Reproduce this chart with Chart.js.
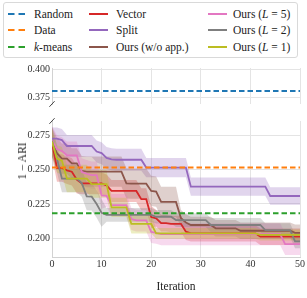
<!DOCTYPE html>
<html>
<head>
<meta charset="utf-8">
<script src="https://cdn.jsdelivr.net/npm/chart.js@4.4.1/dist/chart.umd.min.js"></script>
<style>
body { margin: 0; background: #fff; }
#wrap { position: relative; width: 307px; height: 298px; font-family: "Liberation Serif", "DejaVu Serif", serif; color: #222; }
canvas { position: absolute; left: 0; }
#topChart { top: 60px; }
#bottomChart { top: 112px; }
#legend { position: absolute; left: 3px; top: 2px; width: 295px; height: 56px; border: 1px solid #d9d9d9; border-radius: 3px; box-sizing: border-box; }
.lab { position: absolute; font-size: 11.5px; line-height: 14px; white-space: nowrap; }
.hnd { position: absolute; }
#ylabel { position: absolute; left: 22px; top: 161px; font-size: 11.5px; white-space: nowrap; transform: translate(-50%, -50%) rotate(-90deg); }
</style>
</head>
<body>
<div id="wrap">
  <div id="legend"></div>
  <canvas id="topChart" width="307" height="52"></canvas>
  <canvas id="bottomChart" width="307" height="186"></canvas>
  <div id="ylabel">1 − ARI</div>
</div>
<script>
const FONT = "'Liberation Serif', 'DejaVu Serif', serif";

// baselines
const randomVal = 0.381;
const dataVal = 0.2515;
const kmeansVal = 0.2182;

// mean curves, iterations 0..50
const vectorMean = [0.2695, 0.2512, 0.2512, 0.2495, 0.2485, 0.2427, 0.2400, 0.2400, 0.2400, 0.2400,
  0.2400, 0.2385, 0.2345, 0.2345, 0.2345, 0.2345, 0.2345, 0.2345, 0.2285, 0.2285,
  0.2155, 0.2146, 0.2110, 0.2110, 0.2105, 0.2105, 0.2105, 0.2048, 0.2036, 0.2036,
  0.2036, 0.2036, 0.2036, 0.2036, 0.2036, 0.2036, 0.2036, 0.2036, 0.2036, 0.2036,
  0.2036, 0.2036, 0.2012, 0.2012, 0.2012, 0.2012, 0.2012, 0.2012, 0.2012, 0.2012,
  0.2012];
const splitMean = [0.2726, 0.2726, 0.2715, 0.2672, 0.2672, 0.2672, 0.2672, 0.2672, 0.2672, 0.2632,
  0.2620, 0.2585, 0.2575, 0.2572, 0.2572, 0.2572, 0.2572, 0.2572, 0.2572, 0.2515,
  0.2515, 0.2515, 0.2515, 0.2515, 0.2515, 0.2515, 0.2515, 0.2515, 0.2376, 0.2376,
  0.2376, 0.2376, 0.2376, 0.2376, 0.2376, 0.2376, 0.2376, 0.2376, 0.2376, 0.2376,
  0.2376, 0.2376, 0.2376, 0.2376, 0.2308, 0.2308, 0.2308, 0.2308, 0.2308, 0.2308,
  0.2308];
const woAppMean = [0.2700, 0.2620, 0.2580, 0.2580, 0.2545, 0.2545, 0.2490, 0.2485, 0.2485, 0.2485,
  0.2485, 0.2485, 0.2485, 0.2485, 0.2485, 0.2400, 0.2398, 0.2398, 0.2398, 0.2398,
  0.2345, 0.2340, 0.2265, 0.2265, 0.2265, 0.2265, 0.2146, 0.2115, 0.2097, 0.2097,
  0.2097, 0.2097, 0.2097, 0.2073, 0.2073, 0.2073, 0.2073, 0.2073, 0.2055, 0.2055,
  0.2055, 0.2055, 0.2055, 0.2055, 0.2055, 0.2055, 0.2055, 0.2055, 0.2055, 0.2040,
  0.2040];
const l5Mean = [0.2715, 0.2650, 0.2635, 0.2605, 0.2604, 0.2604, 0.2483, 0.2470, 0.2460, 0.2460,
  0.2313, 0.2310, 0.2242, 0.2242, 0.2242, 0.2242, 0.2140, 0.2130, 0.2130, 0.2130,
  0.2046, 0.2040, 0.2030, 0.2030, 0.2030, 0.2030, 0.2030, 0.2030, 0.2030, 0.2030,
  0.2030, 0.2030, 0.2030, 0.2030, 0.2030, 0.2030, 0.2030, 0.2030, 0.2030, 0.2030,
  0.2030, 0.2030, 0.2030, 0.2030, 0.2030, 0.2030, 0.2030, 0.1958, 0.1958, 0.1958,
  0.1958];
const l2Mean = [0.2710, 0.2580, 0.2435, 0.2435, 0.2435, 0.2435, 0.2403, 0.2305, 0.2303, 0.2250,
  0.2185, 0.2170, 0.2170, 0.2170, 0.2170, 0.2170, 0.2170, 0.2170, 0.2170, 0.2170,
  0.2170, 0.2157, 0.2157, 0.2157, 0.2157, 0.2133, 0.2133, 0.2133, 0.2133, 0.2133,
  0.2133, 0.2133, 0.2097, 0.2097, 0.2097, 0.2097, 0.2097, 0.2097, 0.2097, 0.2097,
  0.2097, 0.2097, 0.2097, 0.2060, 0.2060, 0.2060, 0.2060, 0.2060, 0.2060, 0.1978,
  0.1978];
const l1Mean = [0.2705, 0.2580, 0.2565, 0.2435, 0.2435, 0.2435, 0.2435, 0.2435, 0.2395, 0.2395,
  0.2395, 0.2395, 0.2225, 0.2225, 0.2225, 0.2225, 0.2105, 0.2105, 0.2105, 0.2105,
  0.2105, 0.2036, 0.2036, 0.2036, 0.2036, 0.2036, 0.2036, 0.2036, 0.2036, 0.2036,
  0.2036, 0.2036, 0.2036, 0.2036, 0.2036, 0.2036, 0.2036, 0.2036, 0.2036, 0.2036,
  0.2036, 0.2036, 0.2025, 0.2025, 0.2025, 0.2025, 0.2025, 0.2025, 0.2025, 0.2025,
  0.2025];

// std band half widths
const vectorSd = [0.010, 0.010, 0.010, 0.010, 0.010, 0.010, 0.008, 0.008, 0.008, 0.008,
  0.008, 0.008, 0.008, 0.008, 0.008, 0.008, 0.008, 0.008, 0.008, 0.008,
  0.008, 0.006, 0.006, 0.006, 0.006, 0.006, 0.006, 0.006, 0.006, 0.006,
  0.006, 0.006, 0.006, 0.006, 0.006, 0.006, 0.006, 0.006, 0.006, 0.006,
  0.006, 0.006, 0.006, 0.006, 0.006, 0.006, 0.006, 0.006, 0.006, 0.006,
  0.006];
const splitSd = [0.008, 0.008, 0.008, 0.008, 0.008, 0.008, 0.008, 0.008, 0.008, 0.008,
  0.008, 0.008, 0.008, 0.008, 0.008, 0.008, 0.008, 0.008, 0.008, 0.007,
  0.007, 0.007, 0.007, 0.007, 0.007, 0.007, 0.007, 0.007, 0.0066, 0.0066,
  0.0066, 0.0066, 0.0066, 0.0066, 0.0066, 0.0066, 0.0066, 0.0066, 0.0066, 0.0066,
  0.0066, 0.0066, 0.0066, 0.0066, 0.0063, 0.0063, 0.0063, 0.0063, 0.0063, 0.0063,
  0.0063];
const woAppSd = [0.011, 0.011, 0.011, 0.011, 0.011, 0.011, 0.011, 0.011, 0.011, 0.011,
  0.011, 0.011, 0.011, 0.011, 0.011, 0.011, 0.011, 0.011, 0.011, 0.011,
  0.011, 0.011, 0.011, 0.011, 0.011, 0.011, 0.006, 0.006, 0.006, 0.006,
  0.006, 0.006, 0.006, 0.006, 0.006, 0.006, 0.006, 0.006, 0.006, 0.006,
  0.006, 0.006, 0.006, 0.006, 0.006, 0.006, 0.006, 0.006, 0.006, 0.006,
  0.006];
const l5Sd = [0.010, 0.010, 0.010, 0.010, 0.010, 0.010, 0.010, 0.010, 0.010, 0.010,
  0.010, 0.008, 0.008, 0.008, 0.008, 0.008, 0.008, 0.008, 0.008, 0.008,
  0.008, 0.008, 0.008, 0.008, 0.008, 0.008, 0.008, 0.008, 0.008, 0.008,
  0.008, 0.008, 0.008, 0.008, 0.008, 0.008, 0.008, 0.008, 0.008, 0.008,
  0.008, 0.008, 0.008, 0.008, 0.008, 0.008, 0.008, 0.008, 0.008, 0.008,
  0.008];
const l2Sd = [0.010, 0.010, 0.010, 0.010, 0.010, 0.010, 0.010, 0.010, 0.010, 0.010,
  0.010, 0.005, 0.005, 0.005, 0.005, 0.005, 0.005, 0.005, 0.005, 0.005,
  0.005, 0.005, 0.005, 0.005, 0.005, 0.005, 0.005, 0.005, 0.005, 0.005,
  0.005, 0.005, 0.005, 0.005, 0.005, 0.005, 0.005, 0.005, 0.005, 0.005,
  0.005, 0.005, 0.005, 0.005, 0.005, 0.005, 0.005, 0.005, 0.005, 0.005,
  0.005];
const l1Sd = [0.010, 0.010, 0.010, 0.010, 0.010, 0.010, 0.010, 0.010, 0.010, 0.010,
  0.010, 0.010, 0.007, 0.007, 0.007, 0.007, 0.007, 0.007, 0.007, 0.007,
  0.007, 0.004, 0.004, 0.004, 0.004, 0.004, 0.004, 0.004, 0.004, 0.004,
  0.004, 0.004, 0.004, 0.004, 0.004, 0.004, 0.004, 0.004, 0.004, 0.004,
  0.004, 0.004, 0.004, 0.004, 0.004, 0.004, 0.004, 0.004, 0.004, 0.004,
  0.004];

const topTicks = [0.375, 0.400];
const bottomTicks = [0.200, 0.225, 0.250, 0.275];
const xTicks = [0, 10, 20, 30, 40, 50];

const series = [
  {name: 'Vector', mean: vectorMean, sd: vectorSd, color: [214, 39, 40]},
  {name: 'Split', mean: splitMean, sd: splitSd, color: [148, 103, 189]},
  {name: 'Ours (w/o app.)', mean: woAppMean, sd: woAppSd, color: [140, 86, 75]},
  {name: 'Ours (<i>L</i> = 5)', mean: l5Mean, sd: l5Sd, color: [227, 119, 194]},
  {name: 'Ours (<i>L</i> = 2)', mean: l2Mean, sd: l2Sd, color: [127, 127, 127]},
  {name: 'Ours (<i>L</i> = 1)', mean: l1Mean, sd: l1Sd, color: [188, 189, 34]}
];
const baselines = [
  {name: 'Random', color: [31, 119, 180]},
  {name: 'Data', color: [255, 127, 14]},
  {name: '<i>k</i>-means', color: [44, 160, 44]}
];

const rgb = (c, a) => a === undefined ? `rgb(${c.join(',')})` : `rgba(${c.join(',')},${a})`;
const gridColor = '#e4e4e4';
const spineColor = '#d2d2d2';
const tickColor = '#333';

// legend (3 columns)
const legend = document.getElementById('legend');
const handleX = [4, 85, 204];
const textX = [30, 112, 229];
const rowY = [11.3, 27.3, 43.7];
const legendItems = baselines.map(b => ({...b, dashed: true})).concat(series.map(s => ({name: s.name, color: s.color, dashed: false})));
legendItems.forEach((it, i) => {
  const col = Math.floor(i / 3), row = i % 3;
  const dash = it.dashed ? 'stroke-dasharray="6.5,4"' : '';
  legend.insertAdjacentHTML('beforeend',
    `<svg class="hnd" width="19" height="4" style="left:${handleX[col]}px;top:${rowY[row] - 2}px">` +
    `<line x1="0" y1="2" x2="19" y2="2" stroke="${rgb(it.color)}" stroke-width="2" ${dash}/></svg>` +
    `<span class="lab" style="left:${textX[col]}px;top:${rowY[row] - 7}px">${it.name}</span>`);
});

const iters = vectorMean.map((_, i) => i);
const pts = arr => arr.map((v, i) => ({x: iters[i], y: v}));
const flat = v => [{x: 0, y: v}, {x: 50, y: v}];

const breakMarks = edge => ({
  id: 'breakMarks',
  afterDraw(chart) {
    const {ctx, chartArea} = chart;
    const y = edge === 'bottom' ? chartArea.bottom : chartArea.top;
    const x = chartArea.left;
    ctx.save();
    ctx.strokeStyle = '#444';
    ctx.lineWidth = 1;
    ctx.beginPath();
    ctx.moveTo(x - 2.6, y + 2.8);
    ctx.lineTo(x + 2.6, y - 2.8);
    ctx.stroke();
    ctx.restore();
  }
});

const yAxis = (min, max, ticks) => ({
  min: min, max: max,
  afterBuildTicks: s => { s.ticks = ticks.map(v => ({value: v})); },
  afterFit: s => { s.width = 52; },
  ticks: {callback: v => v.toFixed(3), padding: 2, color: tickColor, font: {family: FONT, size: 10}},
  grid: {color: gridColor, drawTicks: false},
  border: {color: spineColor}
});

// top panel: random baseline
new Chart(document.getElementById('topChart'), {
  type: 'line',
  data: {
    datasets: [{
      data: flat(randomVal), borderColor: rgb(baselines[0].color), borderWidth: 2,
      borderDash: [5.5, 3], pointRadius: 0
    }]
  },
  options: {
    responsive: false, animation: false,
    layout: {padding: {top: 5, bottom: 4, left: 0, right: 7}},
    plugins: {legend: {display: false}, tooltip: {enabled: false}},
    scales: {
      x: {
        type: 'linear', min: 0, max: 50,
        afterBuildTicks: s => { s.ticks = xTicks.map(v => ({value: v})); },
        afterFit: s => { s.height = 0; },
        ticks: {display: false},
        grid: {color: gridColor, drawTicks: false},
        border: {display: false}
      },
      y: yAxis(0.3696, 0.4012, topTicks)
    }
  },
  plugins: [breakMarks('bottom')]
});

// bottom panel
const datasets = [];
series.forEach((s, k) => {
  datasets.push({
    data: pts(s.mean.map((m, i) => m + s.sd[i])), borderWidth: 0, pointRadius: 0,
    backgroundColor: rgb(s.color, 0.28), fill: '+1', order: 40 - k
  });
  datasets.push({
    data: pts(s.mean.map((m, i) => m - s.sd[i])), borderWidth: 0, pointRadius: 0,
    fill: false, order: 40 - k
  });
});
series.forEach((s, k) => {
  datasets.push({
    data: pts(s.mean), borderColor: rgb(s.color), borderWidth: 1.8, pointRadius: 0,
    fill: false, order: 20 - k
  });
});
[[dataVal, baselines[1].color], [kmeansVal, baselines[2].color]].forEach(([v, c]) => {
  datasets.push({
    data: flat(v), borderColor: rgb(c), borderWidth: 2, borderDash: [5.5, 3],
    pointRadius: 0, fill: false, order: 1
  });
});

new Chart(document.getElementById('bottomChart'), {
  type: 'line',
  data: {datasets: datasets},
  options: {
    responsive: false, animation: false,
    layout: {padding: {top: 9, bottom: 0, left: 0, right: 7}},
    elements: {line: {tension: 0}},
    plugins: {legend: {display: false}, tooltip: {enabled: false}},
    scales: {
      x: {
        type: 'linear', min: 0, max: 50,
        afterBuildTicks: s => { s.ticks = xTicks.map(v => ({value: v})); },
        afterFit: s => { s.height = 41; },
        ticks: {padding: 1, color: tickColor, font: {family: FONT, size: 10}},
        grid: {color: gridColor, drawTicks: false},
        border: {color: spineColor},
        title: {display: true, text: 'Iteration', color: '#222', font: {family: FONT, size: 11.5}, padding: {top: 8, bottom: 4}}
      },
      y: yAxis(0.1864, 0.2854, bottomTicks)
    }
  },
  plugins: [breakMarks('top')]
});
</script>
</body>
</html>
